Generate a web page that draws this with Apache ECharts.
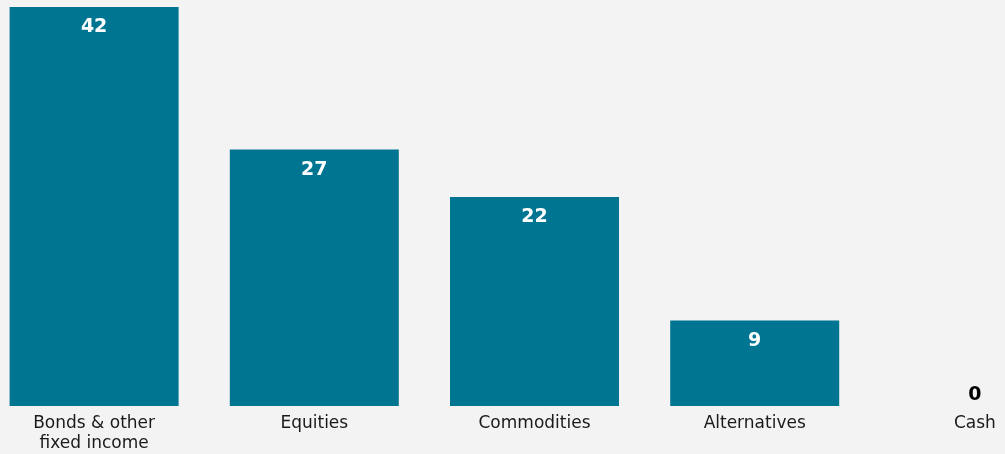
<!DOCTYPE html>
<html>
<head>
<meta charset="utf-8">
<script src="https://cdn.jsdelivr.net/npm/echarts@6/dist/echarts.min.js"></script>
<style>
  html, body { margin: 0; padding: 0; background: #f3f3f3; }
  #chart { width: 1005px; height: 454px; }
</style>
</head>
<body>
<div id="chart"></div>
<script>
// Allocation by asset class (%)
const categories = ['Bonds & other\nfixed income', 'Equities', 'Commodities', 'Alternatives', 'Cash'];
const allocation = [42, 27, 22, 9, 0];

const barColor = '#007592';
const fontFamily = '"DejaVu Sans", sans-serif';

const chart = echarts.init(document.getElementById('chart'));

const seriesData = allocation.map(v => {
  if (v === 0) {
    // an empty bar: show its value just above the baseline
    return { value: v, label: { position: 'top', distance: 1, color: '#000000' } };
  }
  return v;
});

chart.setOption({
  backgroundColor: '#f3f3f3',
  animation: false,
  grid: {
    left: -16, right: -80, top: 7, bottom: 48,
    containLabel: false,
    outerBoundsMode: 'none'
  },
  xAxis: {
    type: 'category',
    data: categories,
    axisLine: { show: false },
    axisTick: { show: false },
    axisLabel: {
      color: '#1a1a1a',
      fontFamily: fontFamily,
      fontSize: 17,
      lineHeight: 20,
      margin: 8,
      interval: 0
    }
  },
  yAxis: {
    type: 'value',
    min: 0,
    max: 42,
    show: false,
    splitLine: { show: false }
  },
  series: [{
    type: 'bar',
    data: seriesData,
    barWidth: 169,
    itemStyle: { color: barColor },
    label: {
      show: true,
      position: 'insideTop',
      distance: 11,
      color: '#ffffff',
      fontFamily: fontFamily,
      fontWeight: 'bold',
      fontSize: 19
    }
  }]
});
</script>
</body>
</html>
